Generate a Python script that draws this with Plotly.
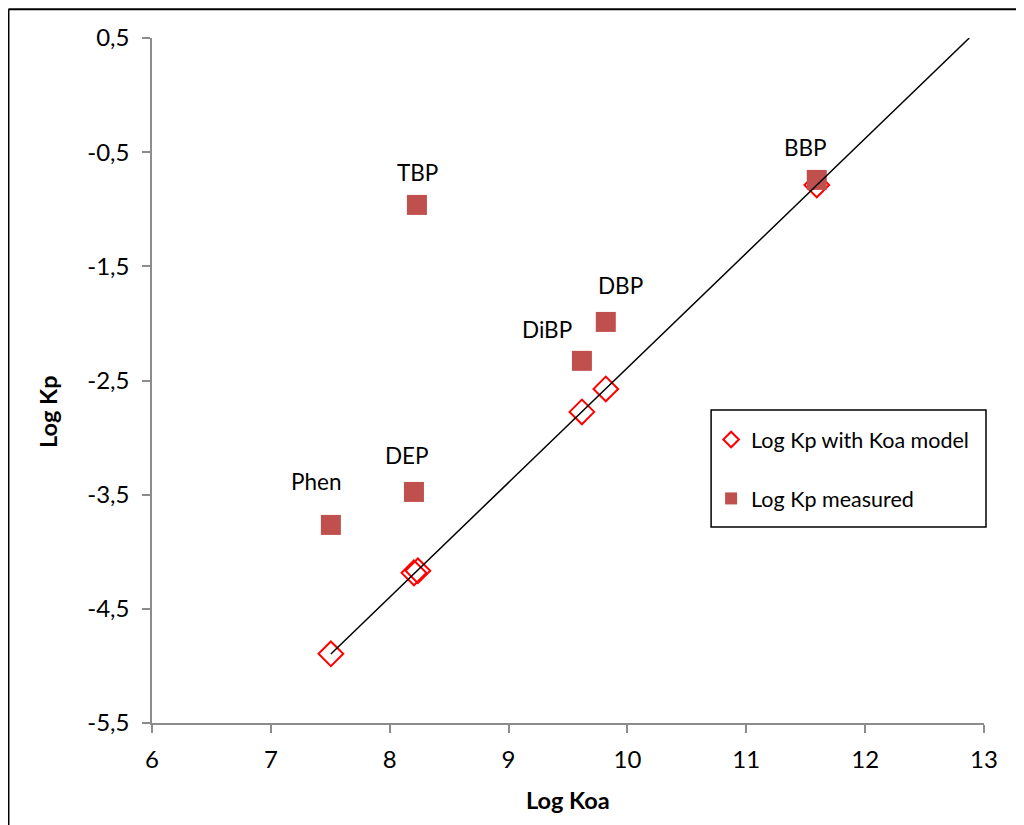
import numpy as np
import plotly.graph_objects as go

compounds = ["Phen", "DEP", "TBP", "DiBP", "DBP", "BBP"]
log_koa = [7.505, 8.204, 8.229, 9.617, 9.818, 11.593]
log_kp_measured = [-3.765, -3.476, -0.962, -2.328, -1.987, -0.743]
model_koa = [7.505, 8.204, 8.237, 9.617, 9.818, 11.593]
log_kp_model = [-4.894, -4.185, -4.167, -2.775, -2.574, -0.787]

y_tickvals = [0.5, -0.5, -1.5, -2.5, -3.5, -4.5, -5.5]
y_ticktext = ["0,5", "-0,5", "-1,5", "-2,5", "-3,5", "-4,5", "-5,5"]
x_tickvals = [6, 7, 8, 9, 10, 11, 12, 13]

# linear trendline of model points, extended forward to the top of the axis
slope, intercept = np.polyfit(model_koa, log_kp_model, 1)
x_start = min(model_koa)
x_end = (0.5 - intercept) / slope
trend_x = [x_start, x_end]
trend_y = [slope * v + intercept for v in trend_x]

FONT = "Lato, 'Open Sans', sans-serif"

fig = go.Figure()
fig.add_trace(go.Scatter(
    x=model_koa, y=log_kp_model, mode="markers", name="Log Kp with Koa model", legendgroup="a",
    marker=dict(symbol="diamond-open", size=19, color="#FF0000", line=dict(width=2, color="#FF0000")),
))
fig.add_trace(go.Scatter(
    x=log_koa, y=log_kp_measured, mode="markers", name="Log Kp measured", legendgroup="b",
    marker=dict(symbol="square", size=20, color="#C0504D"),
))
fig.add_trace(go.Scatter(
    x=trend_x, y=trend_y, mode="lines", showlegend=False,
    line=dict(color="black", width=1.5), hoverinfo="skip",
))

label_offsets = {"Phen": (-15, 43), "DEP": (-7, 36), "TBP": (1, 32), "DiBP": (-35, 31),
                 "DBP": (15, 36), "BBP": (-11, 32)}
for name, xv, yv in zip(compounds, log_koa, log_kp_measured):
    dx, dy = label_offsets[name]
    fig.add_annotation(x=xv, y=yv, text=name, showarrow=False, xshift=dx, yshift=dy,
                       font=dict(family=FONT, size=22.5, color="black"))

# axis titles
fig.add_annotation(xref="paper", yref="paper", x=0.5, y=-0.1124, text="<b>Log Koa</b>",
                   xanchor="center", yanchor="middle",
                   showarrow=False, font=dict(family=FONT, size=23.5, color="black"))
fig.add_annotation(xref="paper", yref="paper", x=-0.125, y=0.454, text="<b>Log Kp</b>",
                   xanchor="center", yanchor="middle",
                   textangle=-90, showarrow=False, font=dict(family=FONT, size=23.5, color="black"))

fig.update_layout(
    width=1016, height=817,
    margin=dict(l=144, r=40, t=30, b=102),
    plot_bgcolor="white", paper_bgcolor="white",
    font=dict(family=FONT, size=22, color="black"),
    showlegend=True,
    legend=dict(
        x=0.672, y=0.4438, xanchor="left", yanchor="top",
        borderwidth=0, bgcolor="rgba(0,0,0,0)",
        font=dict(family=FONT, size=21.5), tracegroupgap=28, itemsizing="constant",
        itemwidth=30,
    ),
    xaxis=dict(
        range=[6, 13], tickvals=x_tickvals, showgrid=False, zeroline=False,
        showline=True, linecolor="#8C8C8C", linewidth=1.5,
        ticks="outside", ticklen=8, tickcolor="#8C8C8C", tickwidth=1.5,
        ticklabelstandoff=6, tickfont=dict(family=FONT, size=24),
    ),
    yaxis=dict(
        range=[-5.5, 0.5], tickvals=y_tickvals, ticktext=y_ticktext, showgrid=False, zeroline=False,
        showline=True, linecolor="#8C8C8C", linewidth=1.5,
        ticks="outside", ticklen=8, tickcolor="#8C8C8C", tickwidth=1.5,
        ticklabelstandoff=8, tickfont=dict(family=FONT, size=24),
    ),
)

# legend box
fig.add_shape(type="rect", xref="paper", yref="paper", x0=0.672, x1=1.0024, y0=0.2861, y1=0.457,
              line=dict(color="black", width=1.5), layer="below")

# outer frame lines (top and left edges visible in reference)
fig.add_shape(type="line", xref="paper", yref="paper", x0=-0.1725, x1=1.06, y0=1.042, y1=1.042,
              line=dict(color="black", width=2))
fig.add_shape(type="line", xref="paper", yref="paper", x0=-0.1725, x1=-0.1725, y0=1.042, y1=-0.2,
              line=dict(color="black", width=2))

fig.write_html("out.html")
